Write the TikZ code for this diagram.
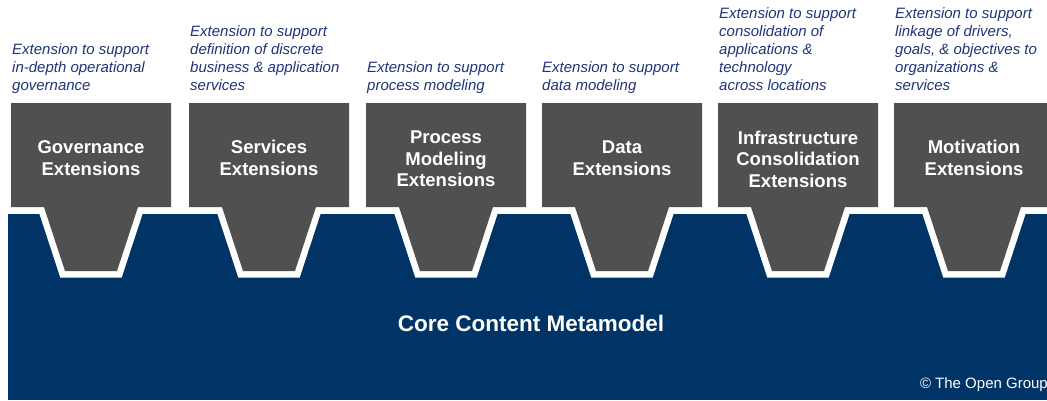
\documentclass[tikz,border=0pt]{standalone}
\usepackage{fontspec}
\setmainfont{Liberation Sans}
\usepackage{xcolor}
\usepackage{tikz}
\usetikzlibrary{positioning}
\definecolor{Slate}{HTML}{505050}
\definecolor{Navy}{HTML}{003366}
\definecolor{NoteBlue}{HTML}{1F3479}

\begin{document}
\begin{tikzpicture}[
  x=1pt, y=-1pt,
  base/.style={fill=Navy},
  piecefill/.style={fill=Slate,
    preaction={draw=white, line width=13pt, line join=miter}},
  piece/.pic={
    \path[piecefill] (-80,103) -- (80,103) -- (80,207) -- (47,207)
      -- (26,271) -- (-26,271) -- (-47,207) -- (-80,207) -- cycle;
  },
  label/.style={text=white, align=center, inner sep=0pt,
    font=\fontsize{18.5}{21.5}\selectfont\bfseries},
  note/.style={anchor=base west, inner sep=0pt, align=left, text=NoteBlue,
    font=\fontsize{15}{18}\selectfont\itshape}
]
  \useasboundingbox (0,0) rectangle (1047,400);
  \fill[base] (8,213.7) rectangle (1060,400);

  % the six extension pieces
  \pic at (91,0) {piece};
  \pic at (269,0) {piece};
  \pic at (446,0) {piece};
  \pic at (622,0) {piece};
  \pic at (798,0) {piece};
  \pic at (974,0) {piece};

  \node[label] (gov) at (91,158) {Governance\\Extensions};
  \node[label] (svc) at (269,158) {Services\\Extensions};
  \node[label] (proc) at (446,159) {Process\\Modeling\\Extensions};
  \node[label] (data) at (622,158) {Data\\Extensions};
  \node[label] (infra) at (798,159) {Infrastructure\\Consolidation\\Extensions};
  \node[label] (motiv) at (974,158) {Motivation\\Extensions};

  % descriptions above the pieces
  \node[note] (govnote) at (12,90) {Extension to support\\in-depth operational\\governance};
  \node[note] (svcnote) at (190,90) {Extension to support\\definition of discrete\\business \& application\\services};
  \node[note] (procnote) at (367,90) {Extension to support\\process modeling};
  \node[note] (datanote) at (542,90) {Extension to support\\data modeling};
  \node[note] (infranote) at (719,90) {Extension to support\\consolidation of\\applications \&\\technology\\across locations};
  \node[note] (motivnote) at (895,90) {Extension to support\\linkage of drivers,\\goals, \& objectives to\\organizations \&\\services};

  \node[text=white, font=\fontsize{22.5}{26}\selectfont\bfseries] (core) at (531,323) {Core Content Metamodel};
  \node[anchor=east, inner sep=0pt, text=white, font=\fontsize{15}{18}\selectfont] (copy) at (1048,385) {© The Open Group};
\end{tikzpicture}
\end{document}
